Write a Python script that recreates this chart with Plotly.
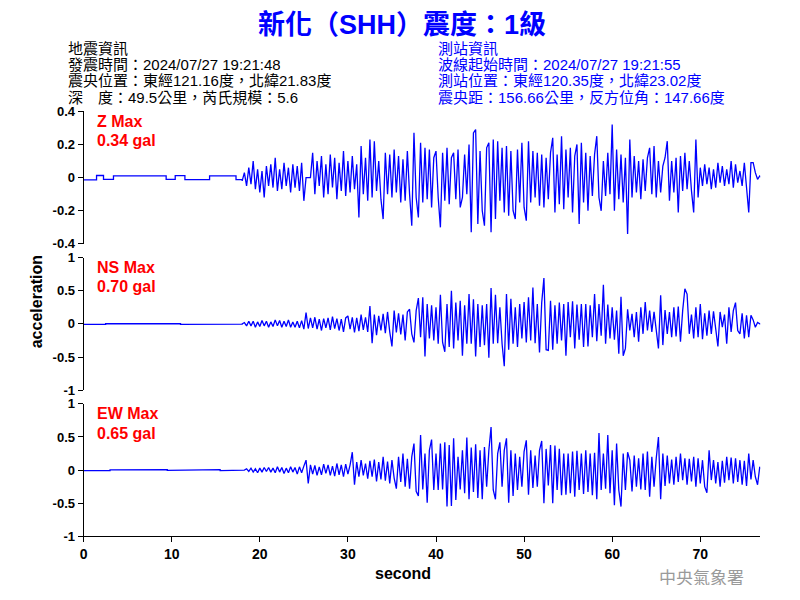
import numpy as np
import plotly.graph_objects as go

# ---------------- data ----------------
title_text = "新化（SHH）震度：1級"
quake_info = ["地震資訊",
              "發震時間：2024/07/27 19:21:48",
              "震央位置：東經121.16度，北緯21.83度",
              "深　度：49.5公里，芮氏規模：5.6"]
station_info = ["測站資訊",
                "波線起始時間：2024/07/27 19:21:55",
                "測站位置：東經120.35度，北緯23.02度",
                "震央距：156.66公里，反方位角：147.66度"]
comp_names = ["Z Max", "NS Max", "EW Max"]
comp_max = ["0.34 gal", "0.70 gal", "0.65 gal"]

# pre-event (quiet) step breakpoints, seconds / gal
z_pre_t = [0, 1.47, 2.26, 3.39, 9.37, 10.4, 11.5, 14.3, 17.3]
z_pre_v = [-0.013, 0.013, -0.010, 0.010, -0.010, 0.012, -0.012, 0.010, -0.012]
ns_pre_t = [0, 2.5, 5.0, 8.0, 11.0, 14.0, 16.5]
ns_pre_v = [-0.008, 0.004, 0.008, 0.002, -0.006, 0.004, -0.004]
ew_pre_t = [0, 3.0, 6.0, 9.5, 12.5, 15.5]
ew_pre_v = [-0.008, 0.004, 0.008, -0.004, 0.006, -0.006]

# active part: samples every 0.25 s starting at 18.0 s
active_start = 18.0
active_dt = 0.25
z_act = [
    -0.02, 0.03, -0.05, 0.06,   -0.04, 0.10, -0.07, 0.05,   -0.09, 0.04, -0.12, 0.07,
    -0.05, 0.08, -0.06, 0.12,   -0.08, 0.05, -0.07, 0.09,   -0.05, 0.06, -0.09, 0.08,
    -0.06, 0.07, -0.08, 0.09,   -0.14, 0.0, 0.0, 0.0,       0.15, -0.10, 0.10, -0.05,
    0.13, -0.12, 0.08, -0.10,   0.14, -0.06, 0.12, -0.13,   0.09, -0.08, 0.16, -0.11,
    0.10, -0.09, 0.13, -0.07,   0.08, -0.24, 0.19, -0.10,   0.12, -0.14, 0.23, -0.12,
    0.22, -0.08, 0.10, -0.13,   -0.25, 0.15, -0.10, 0.14,   -0.12, 0.17, -0.09, 0.13,
    -0.15, 0.11, -0.14, 0.16,   -0.10, -0.29, 0.27, -0.12,  -0.24, 0.21, -0.15, 0.18,
    -0.13, 0.17, -0.18, 0.12,   0.16, -0.12, -0.30, 0.15,   -0.14, 0.18, -0.16, 0.12,
    0.15, -0.13, 0.17, -0.18,   -0.12, 0.14, -0.10, 0.20,   -0.33, 0.27, 0.29, -0.28,
    0.16, -0.20, -0.29, 0.18,   0.21, -0.33, 0.23, -0.25,   0.22, -0.14, 0.18, -0.21,
    0.19, -0.23, 0.16, -0.20,   -0.25, 0.17, -0.15, 0.21,   -0.18, -0.26, 0.22, -0.15,
    0.16, -0.12, 0.15, -0.17,   0.14, -0.18, 0.12, -0.13,   0.15, 0.24, -0.21, 0.14,
    -0.16, 0.25, -0.19, 0.17,   -0.12, 0.18, -0.21, 0.13,   0.20, -0.28, 0.21, -0.15,
    0.15, -0.20, 0.13, -0.11,   0.14, 0.25, -0.12, -0.20,   0.10, -0.11, 0.15, -0.10,
    0.32, -0.20, 0.17, -0.13,   0.14, -0.15, 0.12, -0.34,   0.23, -0.12, 0.13, -0.09,
    0.10, -0.13, 0.11, -0.08,   0.12, 0.18, -0.10, 0.19,    -0.12, 0.10, -0.09, 0.07,
    0.12, 0.22, -0.14, 0.10,    -0.09, 0.12, -0.21, 0.13,   -0.08, 0.15, -0.07, 0.10,
    -0.08, -0.21, 0.23, -0.12,  0.06, -0.05, 0.08, -0.04,   0.06, -0.07, 0.05, -0.06,
    0.09, -0.03, 0.07, -0.05,   0.05, -0.04, 0.10, -0.06,   0.08, -0.03, 0.04, -0.05,
    0.09, -0.06, -0.21, 0.09,   0.09, 0.03, -0.01, 0.01,    0.0,
]
ns_act = [
    0.0, 0.02, -0.03, 0.04,     -0.03, 0.04, -0.05, 0.03,   -0.04, 0.05, -0.03, 0.04,
    -0.05, 0.03, -0.04, 0.06,   -0.03, 0.05, -0.05, 0.04,   -0.04, 0.06, -0.05, 0.03,
    -0.05, 0.04, -0.06, 0.05,   -0.08, 0.17, -0.07, 0.09,   -0.06, 0.10, -0.08, 0.07,
    -0.10, 0.08, -0.06, 0.09,   -0.09, 0.11, -0.07, 0.08,   -0.10, 0.07, -0.12, 0.09,
    0.12, -0.08, 0.10, -0.13,   0.09, -0.11, 0.14, -0.09,   0.10, -0.12, 0.27, -0.29,
    0.14, -0.17, 0.12, -0.10,   0.15, -0.14, 0.18, -0.12,   -0.34, 0.20, -0.13, 0.16,
    -0.16, 0.14, -0.25, 0.18,   0.22, -0.15, -0.28, 0.20,   0.39, -0.20, 0.40, -0.49,
    0.30, -0.22, 0.28, -0.25,   0.25, -0.30, 0.44, -0.28,   -0.42, 0.30, -0.35, 0.50,
    -0.37, 0.32, -0.25, 0.35,   -0.48, 0.28, -0.30, 0.45,   -0.30, 0.37, -0.49, 0.30,
    -0.35, 0.28, -0.32, 0.30,   -0.51, 0.54, -0.30, 0.44,   -0.29, 0.25, -0.30, -0.64,
    0.45, -0.39, 0.38, -0.30,   0.25, -0.35, 0.30, -0.22,   0.33, -0.28, 0.40, -0.25,
    0.55, -0.29, 0.30, -0.43,   0.32, 0.69, -0.39, -0.40,   0.35, -0.39, 0.28, -0.30,
    0.32, -0.25, 0.30, -0.48,   0.33, -0.20, 0.34, -0.37,   0.29, -0.24, 0.30, -0.35,
    0.30, -0.34, 0.28, -0.20,   0.45, -0.26, 0.30, -0.18,   0.59, -0.30, 0.29, -0.22,
    0.25, -0.24, 0.20, -0.45,   0.41, -0.48, -0.37, 0.22,   -0.10, 0.15, -0.20, 0.18,
    -0.27, 0.25, -0.15, 0.33,   -0.10, 0.20, -0.12, 0.18,   -0.13, -0.37, 0.43, -0.32,
    0.21, -0.15, 0.18, -0.20,   0.25, -0.19, 0.26, -0.27,   0.20, 0.53, 0.45, -0.15,
    0.14, -0.22, 0.25, -0.20,   0.30, -0.23, 0.16, -0.18,   0.20, -0.15, 0.19, -0.12,
    -0.34, 0.18, -0.05, 0.14,   -0.30, 0.25, -0.12, 0.20,   0.32, -0.10, -0.15, 0.16,
    -0.22, 0.13, -0.20, 0.13,   0.06, -0.05, 0.02, 0.0,     0.0,
]
ew_act = [
    0.0, 0.0, 0.02, -0.02,      0.03, -0.03, 0.02, -0.04,   0.03, -0.03, 0.04, -0.02,
    0.04, -0.03, 0.03, -0.04,   0.05, -0.03, 0.04, -0.05,   0.03, -0.04, 0.05, -0.03,
    0.04, -0.06, 0.05, -0.04,   0.06, 0.15, -0.20, 0.08,    -0.06, 0.07, -0.08, 0.05,
    -0.07, 0.09, -0.05, 0.08,   -0.08, 0.06, -0.09, 0.10,   -0.07, 0.08, -0.10, 0.09,
    -0.06, 0.08, 0.27, -0.22,   0.12, -0.10, 0.15, -0.08,   0.10, -0.13, 0.14, -0.10,
    0.16, -0.17, 0.12, -0.14,   0.20, -0.16, 0.13, -0.20,   0.15, -0.12, -0.28, 0.20,
    -0.18, 0.25, -0.25, 0.17,   -0.28, 0.20, 0.40, -0.32,   -0.39, 0.53, -0.29, 0.25,
    -0.49, 0.30, 0.46, -0.30,   0.25, -0.30, 0.40, -0.29,   0.42, -0.55, 0.38, -0.54,
    0.48, -0.45, 0.20, -0.29,   0.30, -0.35, 0.49, -0.44,   0.34, -0.33, 0.39, -0.42,
    0.30, -0.44, 0.35, -0.25,   0.30, 0.65, -0.30, -0.44,   0.25, 0.42, -0.25, 0.30,
    0.48, -0.49, 0.30, -0.39,   0.25, -0.30, 0.20, -0.25,   0.28, 0.45, -0.37, 0.30,
    -0.27, 0.22, -0.25, 0.30,   0.44, -0.50, 0.32, -0.23,   0.38, -0.50, 0.37, -0.30,
    0.32, -0.38, 0.25, -0.37,   0.25, -0.35, 0.28, -0.40,   0.29, -0.30, 0.25, -0.36,
    0.30, -0.33, 0.25, -0.38,   0.26, -0.44, 0.56, -0.30,   0.25, -0.28, 0.53, -0.35,
    0.30, -0.53, 0.40, -0.30,   -0.55, 0.25, -0.30, 0.27,   0.15, -0.32, 0.22, -0.25,
    0.18, -0.29, 0.25, -0.30,   0.28, -0.40, 0.20, -0.25,   0.18, 0.50, -0.44, 0.25,
    -0.24, 0.22, -0.20, 0.16,   -0.22, 0.20, -0.18, 0.25,   -0.15, 0.18, -0.22, 0.17,
    -0.17, 0.20, -0.25, 0.18,   -0.20, 0.15, -0.25, -0.34,  0.30, -0.15, 0.15, -0.20,
    0.12, -0.25, 0.14, -0.19,   0.20, -0.15, 0.19, -0.20,   0.18, -0.18, 0.15, -0.22,
    0.14, -0.24, 0.25, -0.14,   0.15, -0.10, -0.22, 0.05,   0.0,
]

z_ticks = [-0.4, -0.2, 0, 0.2, 0.4]
z_ticktext = ["-0.4", "-0.2", "0", "0.2", "0.4"]
h_ticks = [-1, -0.5, 0, 0.5, 1]
h_ticktext = ["-1", "-0.5", "0", "0.5", "1"]
x_ticks = [0, 10, 20, 30, 40, 50, 60, 70]

# ---------------- figure ----------------
BLUE = "rgb(0,0,255)"
LAT = "Arial, Liberation Sans, Noto Sans CJK TC"
CJK = "Arial, Liberation Sans, Noto Sans CJK TC"


def series(pre_t, pre_v, act):
    t_act = active_start + active_dt * np.arange(len(act))
    # quiet part drawn as steps: hold each level up to the next breakpoint
    xs, ys = [], []
    bps = list(pre_t) + [active_start]
    for k in range(len(pre_t)):
        xs += [bps[k], bps[k + 1]]
        ys += [pre_v[k], pre_v[k]]
    return xs + list(t_act), ys + list(act)


fig = go.Figure()
for i, (pt, pv, act) in enumerate([(z_pre_t, z_pre_v, z_act),
                                   (ns_pre_t, ns_pre_v, ns_act),
                                   (ew_pre_t, ew_pre_v, ew_act)]):
    x, y = series(pt, pv, act)
    fig.add_trace(go.Scatter(x=x, y=y, mode="lines", line=dict(color=BLUE, width=1.3),
                             xaxis="x" if i == 0 else f"x{i+1}",
                             yaxis="y" if i == 0 else f"y{i+1}",
                             showlegend=False, hoverinfo="skip"))

W, H = 800, 600
def px(xp): return xp / W
def py(yp): return 1 - yp / H

x_dom = [px(80), px(760)]
y_doms = [[py(243), py(107)], [py(393), py(257)], [py(543), py(407)]]
tickfont = dict(family=LAT, size=13, color="black", weight="bold")

yax_common = dict(showline=True, linecolor="black", linewidth=1, ticks="outside", ticklen=5,
                  tickcolor="black", tickwidth=1, showgrid=False, zeroline=False,
                  tickfont=tickfont, fixedrange=True)
xax_hidden = dict(range=[0, 76.8], domain=x_dom, showline=False, showticklabels=False,
                  ticks="", showgrid=False, zeroline=False)

layout = dict(
    width=W, height=H, margin=dict(l=0, r=0, t=0, b=0),
    paper_bgcolor="white", plot_bgcolor="white",
    xaxis=dict(xax_hidden, anchor="y"),
    xaxis2=dict(xax_hidden, anchor="y2"),
    xaxis3=dict(range=[0, 76.8], domain=x_dom, anchor="y3", showline=True, linecolor="black",
                linewidth=1, ticks="outside", ticklen=5, tickcolor="black", tickvals=x_ticks,
                showgrid=False, zeroline=False, tickfont=dict(tickfont, size=14)),
    yaxis=dict(yax_common, domain=y_doms[0], range=[-0.4, 0.4], tickvals=z_ticks,
               ticktext=z_ticktext, anchor="x"),
    yaxis2=dict(yax_common, domain=y_doms[1], range=[-1, 1], tickvals=h_ticks,
                ticktext=h_ticktext, anchor="x2"),
    yaxis3=dict(yax_common, domain=y_doms[2], range=[-1, 1], tickvals=h_ticks,
                ticktext=h_ticktext, anchor="x3"),
)
fig.update_layout(**layout)

ann = []
ann.append(dict(text=f"<b>{title_text}</b>", x=0.5, y=py(18), xref="paper", yref="paper",
                xanchor="center", yanchor="middle", showarrow=False,
                font=dict(family=CJK, size=27, color=BLUE)))
line_y = [42, 58, 75, 92]
for k, s in enumerate(quake_info):
    ann.append(dict(text=s, x=px(62), y=py(line_y[k]), xref="paper", yref="paper",
                    xanchor="left", yanchor="middle", showarrow=False, height=16,
                    font=dict(family=CJK, size=15, color="black")))
for k, s in enumerate(station_info):
    ann.append(dict(text=s, x=px(434), y=py(line_y[k]), xref="paper", yref="paper",
                    xanchor="left", yanchor="middle", showarrow=False, height=16,
                    font=dict(family=CJK, size=15, color=BLUE)))
panel_top = [107, 257, 407]
for k in range(3):
    ann.append(dict(text=f"<b>{comp_names[k]}</b>", x=px(91), y=py(panel_top[k] + 10),
                    xref="paper", yref="paper", xanchor="left", yanchor="middle",
                    showarrow=False, font=dict(family=LAT, size=16, color="red")))
    ann.append(dict(text=f"<b>{comp_max[k]}</b>", x=px(91), y=py(panel_top[k] + 30),
                    xref="paper", yref="paper", xanchor="left", yanchor="middle",
                    showarrow=False, font=dict(family=LAT, size=16, color="red")))
ann.append(dict(text="<b>acceleration</b>", x=px(33), y=py(302), xref="paper", yref="paper",
                xanchor="center", yanchor="middle", textangle=-90, showarrow=False,
                font=dict(family=LAT, size=16, color="black")))
ann.append(dict(text="<b>second</b>", x=px(401), y=py(581), xref="paper", yref="paper",
                xanchor="center", yanchor="middle", showarrow=False,
                font=dict(family=LAT, size=16, color="black")))
ann.append(dict(text="中央氣象署", x=px(701), y=py(584), xref="paper", yref="paper",
                xanchor="center", yanchor="middle", showarrow=False, height=18,
                font=dict(family="Noto Sans CJK TC", size=17, color="#9a9a9a")))
fig.update_layout(annotations=ann)

fig.write_html("out.html")
